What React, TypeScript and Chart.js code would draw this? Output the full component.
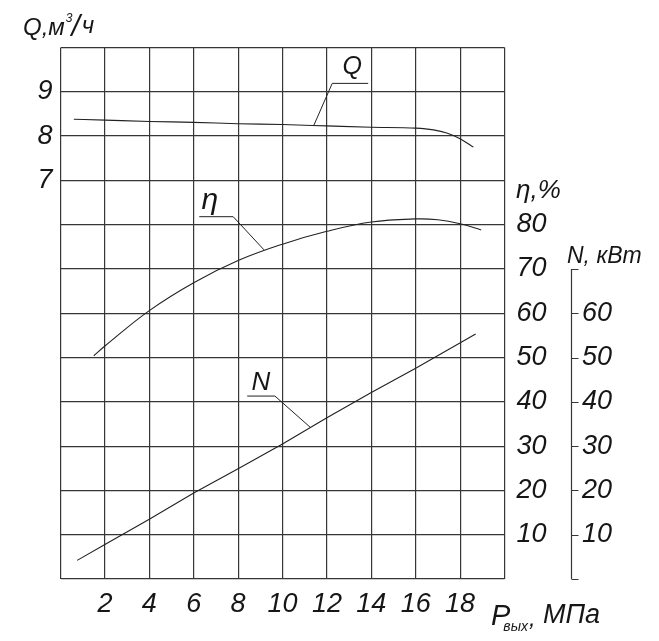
import React, { useEffect, useRef } from 'react';
import { Chart, registerables } from 'chart.js';

Chart.register(...registerables);

// P_вых, МПа on x; curves
const qPressure = [0.6, 2, 4, 6, 8, 10, 12, 14, 16, 16.8, 17.4, 18, 18.6];
const qFlow = [8.38, 8.36, 8.33, 8.31, 8.28, 8.26, 8.23, 8.2, 8.18, 8.14, 8.07, 7.94, 7.75];

const etaPressure = [1.5, 2, 4, 6, 8, 10, 12, 14, 16, 17, 18, 18.95];
const etaValues = [50.4, 52.6, 60.6, 66.9, 71.9, 75.6, 78.5, 80.6, 81.3, 81.1, 80.2, 78.8];

const nPressure = [0.75, 2, 4, 6, 8, 10, 12, 14, 16, 18.7];
const nPower = [4.2, 7.8, 13.5, 19.4, 24.9, 30.5, 36.4, 42.1, 47.6, 55.3];

// tick labels that are actually printed
const xTicks = [2, 4, 6, 8, 10, 12, 14, 16, 18];
const qTicks = [7, 8, 9];
const etaTicks = [10, 20, 30, 40, 50, 60, 70, 80];
const nTicks = [10, 20, 30, 40, 50, 60];

// callout leaders: point on curve -> elbow -> end of underline (data units)
const callouts = [
  { text: 'Q', axis: 'yQ', size: 25, from: [11.4, 8.23], elbow: [12.24, 9.19], end: 13.86, label: [12.7, 9.4] },
  { text: 'η', axis: 'yEta', size: 30, from: [9.17, 74.3], elbow: [7.78, 81.8], end: 6.25, label: [6.35, 83.6] },
  { text: 'N', axis: 'yN', size: 26, from: [11.24, 34.3], elbow: [9.66, 41.3], end: 8.41, label: [8.6, 42.7] },
];

const FONT = "'Liberation Sans', Arial, sans-serif";
const INK = '#161616';
const LINE = '#363636';

const font = (size: number) => `italic ${size}px ${FONT}`;

const extras = {
  id: 'extras',
  afterDraw(chart: any) {
    const { ctx, scales } = chart;
    const x = scales.x;
    const yN = scales.yN;
    ctx.save();

    // short N axis with its own ticks
    const ax = Math.round(yN.left) + 0.5;
    ctx.strokeStyle = LINE;
    ctx.lineWidth = 1.2;
    ctx.beginPath();
    ctx.moveTo(ax, yN.getPixelForValue(0));
    ctx.lineTo(ax, yN.getPixelForValue(70));
    for (let v = 0; v <= 70; v += 10) {
      const py = Math.round(yN.getPixelForValue(v)) + 0.5;
      ctx.moveTo(ax, py);
      ctx.lineTo(ax + 7, py);
    }
    ctx.stroke();

    // leaders
    ctx.lineWidth = 1;
    ctx.strokeStyle = '#222';
    ctx.fillStyle = INK;
    ctx.textBaseline = 'alphabetic';
    ctx.textAlign = 'left';
    callouts.forEach((c) => {
      const y = scales[c.axis];
      ctx.beginPath();
      ctx.moveTo(x.getPixelForValue(c.from[0]), y.getPixelForValue(c.from[1]));
      ctx.lineTo(x.getPixelForValue(c.elbow[0]), y.getPixelForValue(c.elbow[1]));
      ctx.lineTo(x.getPixelForValue(c.end), y.getPixelForValue(c.elbow[1]));
      ctx.stroke();
      ctx.font = font(c.size);
      ctx.fillText(c.text, x.getPixelForValue(c.label[0]), y.getPixelForValue(c.label[1]));
    });

    // axis titles
    let px = 23;
    ctx.font = font(24);
    ctx.fillText('Q,м', px, 35);
    px += ctx.measureText('Q,м').width + 1;
    ctx.font = font(12);
    ctx.fillText('3', px, 22);
    px += ctx.measureText('3').width - 1;
    ctx.font = font(30);
    ctx.fillText('/', px, 36);
    px += ctx.measureText('/').width + 2;
    ctx.font = font(24);
    ctx.fillText('ч', px, 33);

    ctx.font = font(26);
    ctx.fillText('η,%', 516, 198);

    ctx.font = font(23);
    ctx.fillText('N, кВт', 567, 263);

    px = 491;
    ctx.font = font(29);
    ctx.fillText('P', px, 625);
    px += ctx.measureText('P').width - 7;
    ctx.font = font(14);
    ctx.fillText('вых', px, 631);
    px += ctx.measureText('вых').width + 1;
    ctx.font = font(24);
    ctx.fillText(',', px, 626);
    ctx.font = font(27);
    ctx.fillText('МПа', 543, 623);

    ctx.restore();
  },
};

const App = (): JSX.Element => {
  const canvasRef = useRef<HTMLCanvasElement>(null);
  const chartRef = useRef<Chart | null>(null);

  useEffect(() => {
    document.body.style.margin = '0';
    if (!canvasRef.current) return;
    if (chartRef.current) {
      chartRef.current.destroy();
      chartRef.current = null;
    }

    const tickFont = { family: FONT, size: 27, style: 'italic' as const };
    const curve = (xs: number[], ys: number[], axis: string, smooth: object) => ({
      data: xs.map((v, i) => ({ x: v, y: ys[i] })),
      yAxisID: axis,
      borderColor: '#222',
      borderWidth: 1.1,
      pointRadius: 0,
      fill: false,
      ...smooth,
    });

    chartRef.current = new Chart(canvasRef.current, {
      type: 'line',
      data: {
        datasets: [
          curve(qPressure, qFlow, 'yQ', { cubicInterpolationMode: 'monotone' }),
          curve(etaPressure, etaValues, 'yEta', { tension: 0.4 }),
          curve(nPressure, nPower, 'yN', { tension: 0 }),
        ],
      },
      options: {
        responsive: true,
        maintainAspectRatio: false,
        animation: false,
        layout: { padding: { top: 47.5, right: 47, left: 0, bottom: 0 } },
        plugins: { legend: { display: false }, tooltip: { enabled: false } },
        scales: {
          x: {
            type: 'linear',
            min: 0,
            max: 20,
            grid: { color: LINE, lineWidth: 1.2, drawTicks: false },
            border: { display: false },
            afterFit: (s: any) => { s.height = 62; },
            ticks: {
              stepSize: 2,
              autoSkip: false,
              maxRotation: 0,
              padding: 9,
              color: INK,
              font: tickFont,
              callback: (v: any) => (xTicks.includes(Number(v)) ? String(v) : ''),
            },
          },
          yQ: {
            type: 'linear',
            position: 'left',
            min: -2,
            max: 10,
            grid: { color: LINE, lineWidth: 1.2, drawTicks: false },
            border: { display: false },
            afterFit: (s: any) => { s.width = 60.5; },
            ticks: {
              stepSize: 1,
              autoSkip: false,
              padding: 8,
              color: INK,
              font: tickFont,
              callback: (v: any) => (qTicks.includes(Number(v)) ? String(v) : ''),
            },
          },
          yEta: {
            type: 'linear',
            position: 'right',
            min: 0,
            max: 120,
            grid: { display: false, drawTicks: false },
            border: { display: false },
            afterFit: (s: any) => { s.width = 66; },
            ticks: {
              stepSize: 10,
              autoSkip: false,
              padding: 12,
              color: INK,
              font: tickFont,
              callback: (v: any) => (etaTicks.includes(Number(v)) ? String(v) : ''),
            },
          },
          yN: {
            type: 'linear',
            position: 'right',
            min: 0,
            max: 120,
            grid: { display: false, drawTicks: false },
            border: { display: false },
            afterFit: (s: any) => { s.width = 41.5; },
            ticks: {
              stepSize: 10,
              autoSkip: false,
              crossAlign: 'far',
              padding: 12,
              color: INK,
              font: tickFont,
              callback: (v: any) => (nTicks.includes(Number(v)) ? String(v) : ''),
            },
          },
        },
      } as any,
      plugins: [extras],
    });

    return () => {
      if (chartRef.current) {
        chartRef.current.destroy();
        chartRef.current = null;
      }
    };
  }, []);

  return (
    <div style={{ position: 'relative', width: '659px', height: '641px', background: '#fff' }}>
      <canvas ref={canvasRef} role="img" aria-label="Q, η, N vs P вых"></canvas>
    </div>
  );
};

export default App;
